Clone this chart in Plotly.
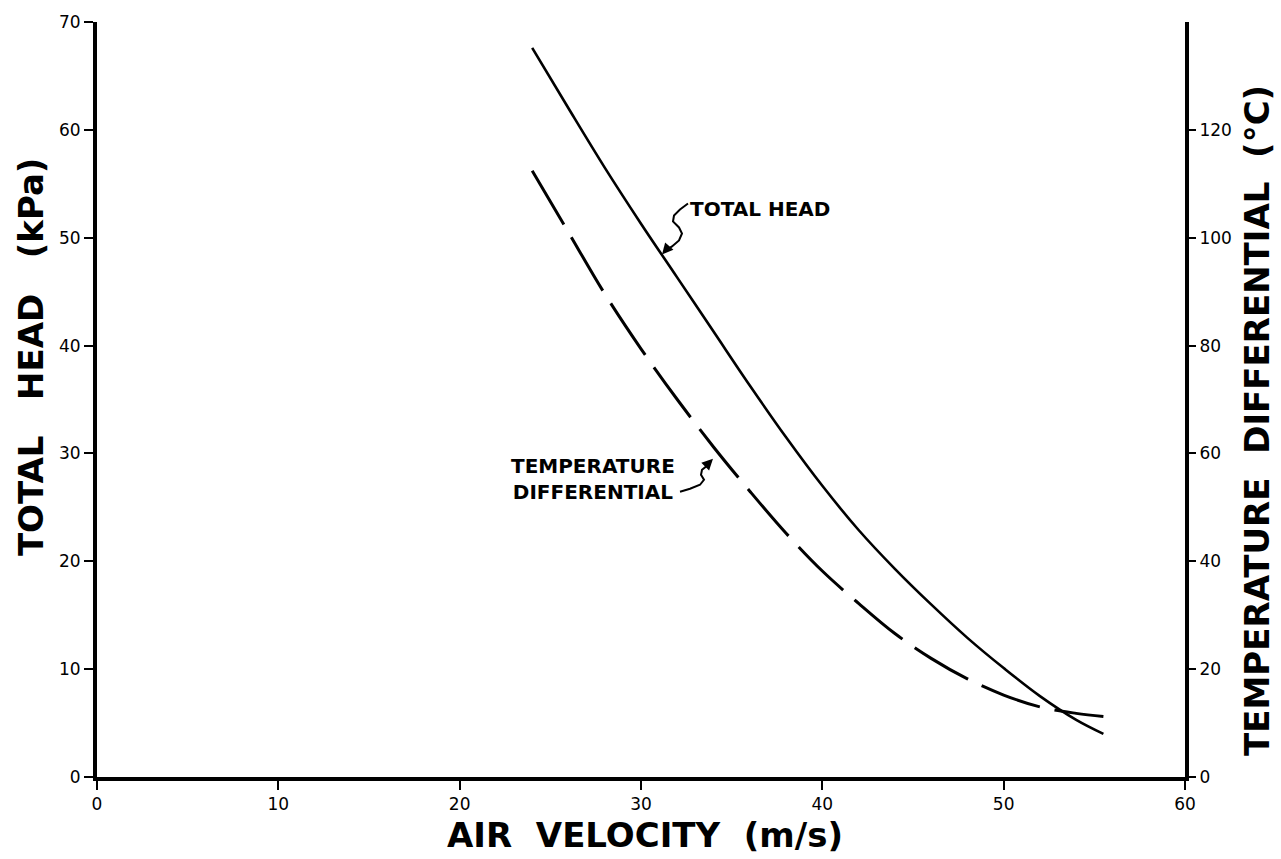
import plotly.graph_objects as go

# Data
velocity = [24, 26, 28, 30, 32, 34, 36, 38, 40, 42, 44, 46, 48, 50, 52, 54, 55.5]
total_head_kpa = [67.6, 62.0, 56.5, 51.3, 46.3, 41.3, 36.3, 31.5, 27.0, 22.9, 19.3, 16.0, 12.9, 10.1, 7.5, 5.3, 4.0]
temp_diff_c = [112.4, 101.0, 89.6, 79.4, 70.0, 61.2, 53.0, 45.2, 38.2, 32.2, 26.6, 22.0, 18.2, 15.2, 13.0, 11.8, 11.2]

x_ticks = [0, 10, 20, 30, 40, 50, 60]
y_ticks = [0, 10, 20, 30, 40, 50, 60, 70]
y2_ticks = [0, 20, 40, 60, 80, 100, 120]

W, H = 1281, 859
L, R, T, B = 97, 96, 20, 82
PW, PH = W - L - R, H - T - B


def px(xp):
    return (xp - L) / PW


def py(yp):
    return (H - B - yp) / PH


def paper_path(points):
    pts = [(px(a), py(b)) for a, b in points]
    d = "M %.5f,%.5f" % pts[0]
    for p in pts[1:]:
        d += " L %.5f,%.5f" % p
    return d


fig = go.Figure()
fig.add_trace(go.Scatter(
    x=velocity, y=total_head_kpa, mode="lines", name="TOTAL HEAD",
    line=dict(color="black", width=2.6, shape="spline"), yaxis="y",
    showlegend=False))
fig.add_trace(go.Scatter(
    x=velocity, y=temp_diff_c, mode="lines", name="TEMPERATURE DIFFERENTIAL",
    line=dict(color="black", width=3, shape="spline", dash="62px,15px"),
    yaxis="y2", showlegend=False))

tickfont = dict(family="DejaVu Sans", size=17, color="black")
axis_common = dict(showline=True, linewidth=4, linecolor="black", ticks="outside",
                   tickwidth=2, tickcolor="black", showgrid=False, zeroline=False,
                   tickfont=tickfont)

fig.update_layout(
    width=W, height=H,
    margin=dict(l=L, r=R, t=T, b=B, pad=0),
    paper_bgcolor="white", plot_bgcolor="white",
    xaxis=dict(range=[0, 60], tickvals=x_ticks, ticklen=9, **axis_common),
    yaxis=dict(range=[0, 70], tickvals=y_ticks, ticklen=9, **axis_common),
    yaxis2=dict(range=[0, 140], tickvals=y2_ticks, ticklen=7, overlaying="y",
                side="right", **axis_common),
)

title_font = dict(family="DejaVu Sans", size=34, color="black", weight="bold")
label_font = dict(family="DejaVu Sans", size=20, color="black", weight="bold")

annotations = [
    dict(text="AIR  VELOCITY  (m/s)", x=px(645), y=py(835), xref="paper", yref="paper",
         showarrow=False, font=title_font, xanchor="center", yanchor="middle"),
    dict(text="TOTAL   HEAD   (kPa)", x=px(31), y=py(356), xref="paper", yref="paper",
         showarrow=False, font=title_font, textangle=-90, xanchor="center", yanchor="middle"),
    dict(text="TEMPERATURE  DIFFERENTIAL  (°C)", x=px(1257), y=py(420), xref="paper", yref="paper",
         showarrow=False, font=title_font, textangle=-90, xanchor="center", yanchor="middle"),
    dict(text="TOTAL HEAD", x=px(688), y=py(207), xref="paper", yref="paper",
         showarrow=False, font=label_font, xanchor="left", yanchor="middle"),
    dict(text="TEMPERATURE<br>DIFFERENTIAL", x=px(593), y=py(478), xref="paper", yref="paper",
         showarrow=False, font=label_font, xanchor="center", yanchor="middle", align="center"),
    dict(text="", x=31.16, y=48.45, xref="x", yref="y", showarrow=True, ax=7, ay=-8,
         arrowhead=2, arrowsize=1, arrowwidth=2.2, arrowcolor="black", standoff=0),
    dict(text="", x=33.97, y=59.0, xref="x", yref="y2", showarrow=True, ax=-7, ay=7,
         arrowhead=2, arrowsize=1, arrowwidth=2.2, arrowcolor="black", standoff=0),
]
fig.update_layout(annotations=annotations)

head_leader = [(688, 202), (680, 208), (674, 214), (673, 220), (679, 226), (682, 232),
               (679, 239), (672, 245), (669, 247)]
temp_leader = [(680, 491), (690, 488), (700, 484), (704, 479), (701, 474), (702, 469),
               (707, 465), (706, 464)]
for pts in (head_leader, temp_leader):
    fig.add_shape(type="path", path=paper_path(pts), xref="paper", yref="paper",
                  line=dict(color="black", width=2), layer="above")

fig.write_html("out.html", config={"displayModeBar": False},
               post_script="document.body.style.margin='0';document.body.style.overflow='hidden';")
